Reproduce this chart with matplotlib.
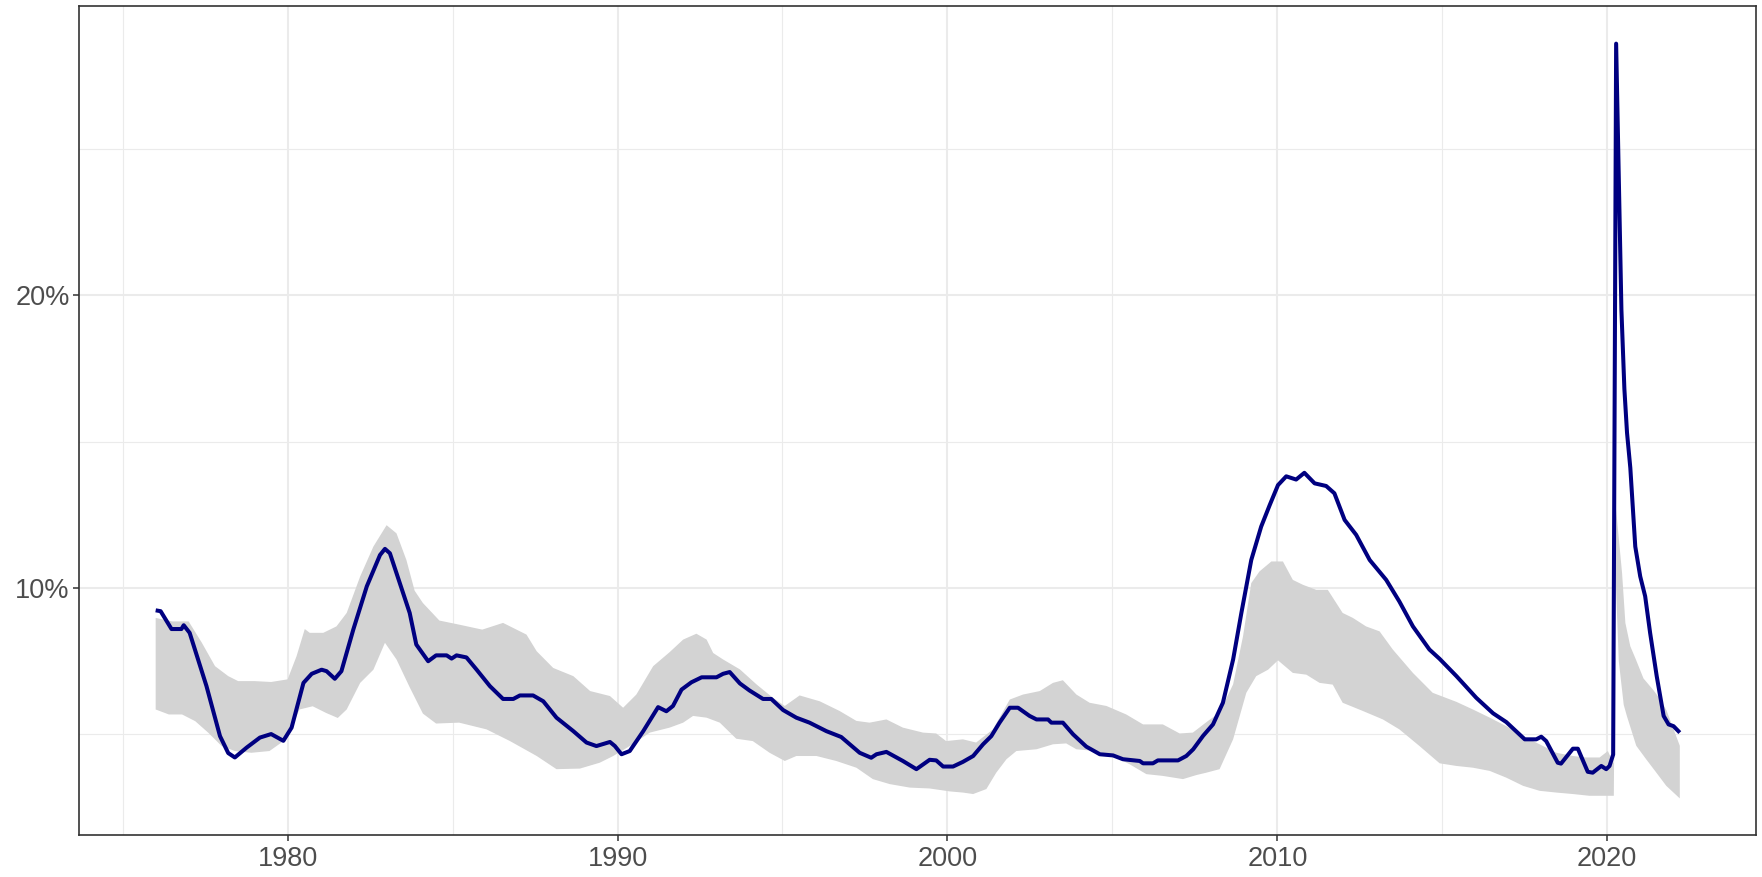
import numpy as np
import matplotlib
matplotlib.use("Agg")
from matplotlib import pyplot as plt

plt.rcParams['font.family'] = ['Liberation Sans', 'DejaVu Sans']

# main series (year, %)
line_year = [1976.0, 1976.15, 1976.48, 1976.78, 1976.85, 1977.03, 1977.54, 1977.95, 1978.2, 1978.4,
             1978.76, 1979.16, 1979.5, 1979.87, 1980.12, 1980.48, 1980.73, 1981.03, 1981.18, 1981.43,
             1981.63, 1981.99, 1982.4, 1982.8, 1982.95, 1983.1, 1983.4, 1983.7, 1983.9, 1984.26,
             1984.5, 1984.82, 1984.97, 1985.12, 1985.42, 1985.73, 1986.13, 1986.53, 1986.84, 1987.04,
             1987.44, 1987.75, 1988.15, 1988.66, 1989.06, 1989.36, 1989.77, 1989.92, 1990.12, 1990.37,
             1990.78, 1991.23, 1991.48, 1991.68, 1991.94, 1992.24, 1992.55, 1993.0, 1993.2, 1993.4,
             1993.71, 1994.0, 1994.41, 1994.66, 1995.02, 1995.42, 1995.82, 1996.33, 1996.78, 1997.04,
             1997.34, 1997.69, 1997.85, 1998.15, 1998.65, 1999.06, 1999.46, 1999.66, 1999.87, 2000.17,
             2000.47, 2000.78, 2001.08, 2001.33, 2001.58, 2001.89, 2002.14, 2002.49, 2002.7, 2003.05,
             2003.15, 2003.5, 2003.81, 2004.21, 2004.62, 2005.02, 2005.32, 2005.83, 2005.93, 2006.23,
             2006.38, 2006.99, 2007.24, 2007.45, 2007.75, 2008.05, 2008.35, 2008.66, 2008.91, 2009.21,
             2009.51, 2009.77, 2010.02, 2010.27, 2010.57, 2010.82, 2011.13, 2011.48, 2011.73, 2012.04,
             2012.39, 2012.8, 2013.3, 2013.7, 2014.11, 2014.61, 2014.92, 2015.43, 2016.03, 2016.54,
             2016.94, 2017.5, 2017.85, 2018.0, 2018.15, 2018.5, 2018.6, 2018.96, 2019.11, 2019.41,
             2019.56, 2019.82, 2019.97, 2020.07, 2020.18, 2020.27, 2020.35, 2020.43, 2020.52, 2020.6,
             2020.7, 2020.85, 2021.0, 2021.15, 2021.3, 2021.5, 2021.71, 2021.86, 2022.01, 2022.2]
line_rate = [9.23, 9.2, 8.59, 8.59, 8.72, 8.46, 6.64, 4.93, 4.35, 4.2,
             4.54, 4.88, 5.0, 4.77, 5.22, 6.75, 7.06, 7.2, 7.15, 6.89,
             7.15, 8.57, 10.05, 11.12, 11.33, 11.18, 10.16, 9.14, 8.06, 7.49,
             7.69, 7.69, 7.58, 7.69, 7.62, 7.2, 6.64, 6.2, 6.2, 6.32,
             6.32, 6.12, 5.56, 5.1, 4.71, 4.59, 4.73, 4.59, 4.31, 4.42,
             5.1, 5.92, 5.78, 5.96, 6.52, 6.77, 6.94, 6.94, 7.06, 7.12,
             6.73, 6.49, 6.2, 6.2, 5.82, 5.56, 5.39, 5.1, 4.9, 4.65,
             4.36, 4.19, 4.31, 4.39, 4.08, 3.8, 4.12, 4.1, 3.89, 3.89,
             4.05, 4.25, 4.65, 4.93, 5.39, 5.9, 5.9, 5.62, 5.5, 5.5,
             5.39, 5.39, 4.99, 4.57, 4.31, 4.27, 4.14, 4.08, 4.0, 4.0,
             4.1, 4.1, 4.25, 4.48, 4.94, 5.33, 6.07, 7.55, 9.14, 10.95,
             12.09, 12.83, 13.51, 13.81, 13.7, 13.93, 13.57, 13.48, 13.23, 12.32,
             11.81, 10.95, 10.27, 9.53, 8.68, 7.89, 7.57, 6.98, 6.24, 5.71,
             5.41, 4.82, 4.82, 4.91, 4.76, 4.02, 3.99, 4.5, 4.5, 3.71,
             3.68, 3.91, 3.8, 3.91, 4.3, 28.6, 24.0, 19.5, 16.8, 15.3,
             14.1, 11.41, 10.39, 9.71, 8.46, 6.98, 5.62, 5.33, 5.27, 5.05]

# upper edge of the band
hi_year = [1976.0, 1976.5, 1977.0, 1977.4, 1977.8, 1978.2, 1978.5, 1979.0, 1979.5, 1980.0,
           1980.27, 1980.52, 1980.67, 1981.08, 1981.48, 1981.79, 1982.2, 1982.6, 1983.0, 1983.3,
           1983.6, 1983.85, 1984.1, 1984.6, 1985.2, 1985.9, 1986.53, 1987.24, 1987.55, 1988.05,
           1988.66, 1989.17, 1989.77, 1990.17, 1990.57, 1991.08, 1991.58, 1991.99, 1992.39, 1992.7,
           1992.9, 1993.2, 1993.71, 1994.21, 1994.71, 1995.07, 1995.52, 1996.13, 1996.73, 1997.24,
           1997.64, 1998.15, 1998.65, 1999.26, 1999.66, 1999.96, 2000.47, 2000.87, 2001.38, 2001.89,
           2002.29, 2002.8, 2003.2, 2003.5, 2003.91, 2004.31, 2004.82, 2005.42, 2005.93, 2006.53,
           2007.04, 2007.44, 2007.9, 2008.25, 2008.66, 2008.96, 2009.21, 2009.46, 2009.82, 2010.17,
           2010.47, 2010.78, 2011.18, 2011.53, 2011.98, 2012.29, 2012.69, 2013.1, 2013.5, 2014.11,
           2014.71, 2015.43, 2015.93, 2016.44, 2016.94, 2017.45, 2017.95, 2018.46, 2018.96, 2019.36,
           2019.77, 2020.02, 2020.19, 2020.22, 2020.3, 2020.45, 2020.55, 2020.7, 2020.85, 2021.1,
           2021.4, 2021.6, 2021.8, 2022.0, 2022.2]
hi_rate = [8.97, 8.85, 8.85, 8.12, 7.32, 6.98, 6.81, 6.81, 6.78, 6.87,
           7.66, 8.59, 8.46, 8.46, 8.68, 9.14, 10.39, 11.41, 12.14, 11.86,
           10.95, 9.9, 9.48, 8.88, 8.74, 8.57, 8.8, 8.4, 7.83, 7.26,
           6.98, 6.47, 6.3, 5.9, 6.35, 7.32, 7.8, 8.23, 8.43, 8.23,
           7.77, 7.55, 7.21, 6.7, 6.24, 5.96, 6.32, 6.12, 5.79, 5.45,
           5.39, 5.5, 5.22, 5.05, 5.02, 4.76, 4.82, 4.71, 5.16, 6.18,
           6.35, 6.47, 6.75, 6.84, 6.35, 6.07, 5.96, 5.67, 5.33, 5.33,
           5.02, 5.05, 5.45, 5.73, 6.7, 8.34, 10.16, 10.56, 10.9, 10.9,
           10.27, 10.1, 9.93, 9.93, 9.14, 8.97, 8.68, 8.51, 7.89, 7.09,
           6.41, 6.1, 5.84, 5.56, 5.27, 4.93, 4.65, 4.36, 4.25, 4.2,
           4.2, 4.42, 4.0, 13.2, 12.3, 10.5, 8.8, 8.0, 7.6, 6.9,
           6.5, 6.2, 5.8, 5.2, 4.6]

# lower edge of the band
lo_year = [1976.0, 1976.4, 1976.8, 1977.2, 1977.6, 1978.0, 1978.4, 1978.9, 1979.45, 1979.95,
           1980.36, 1980.76, 1981.17, 1981.52, 1981.79, 1982.2, 1982.6, 1982.95, 1983.3, 1983.7,
           1984.1, 1984.5, 1985.2, 1986.03, 1986.74, 1987.55, 1988.15, 1988.86, 1989.46, 1989.87,
           1990.37, 1990.98, 1991.58, 1991.99, 1992.29, 1992.7, 1993.1, 1993.6, 1994.1, 1994.61,
           1995.07, 1995.42, 1996.03, 1996.63, 1997.24, 1997.74, 1998.25, 1998.86, 1999.46, 2000.07,
           2000.47, 2000.78, 2001.18, 2001.48, 2001.79, 2002.09, 2002.7, 2003.2, 2003.6, 2003.91,
           2004.51, 2005.02, 2005.52, 2006.03, 2006.53, 2007.14, 2007.55, 2007.85, 2008.25, 2008.66,
           2009.06, 2009.36, 2009.72, 2010.02, 2010.47, 2010.88, 2011.28, 2011.68, 2011.98, 2012.59,
           2013.2, 2013.7, 2014.31, 2014.92, 2015.43, 2015.93, 2016.44, 2016.94, 2017.45, 2017.95,
           2018.46, 2018.96, 2019.46, 2019.97, 2020.2, 2020.25, 2020.35, 2020.5, 2020.6, 2020.88,
           2021.18, 2021.49, 2021.79, 2022.2]
lo_rate = [5.84, 5.67, 5.67, 5.44, 5.04, 4.59, 4.42, 4.36, 4.42, 4.82,
           5.84, 5.95, 5.72, 5.55, 5.84, 6.75, 7.2, 8.12, 7.55, 6.6,
           5.7, 5.36, 5.39, 5.16, 4.76, 4.25, 3.8, 3.82, 4.02, 4.25,
           4.59, 5.05, 5.22, 5.39, 5.62, 5.56, 5.39, 4.84, 4.76, 4.36,
           4.08, 4.25, 4.25, 4.08, 3.85, 3.46, 3.29, 3.17, 3.14, 3.04,
           3.0, 2.95, 3.12, 3.68, 4.14, 4.42, 4.48, 4.65, 4.68, 4.48,
           4.42, 4.25, 3.97, 3.63, 3.57, 3.46, 3.6, 3.68, 3.8, 4.82,
           6.41, 6.98, 7.2, 7.52, 7.09, 7.03, 6.75, 6.69, 6.07, 5.79,
           5.5, 5.16, 4.59, 4.0, 3.91, 3.85, 3.74, 3.51, 3.23, 3.06,
           3.0, 2.95, 2.89, 2.89, 2.89, 10.5, 7.5, 6.0, 5.6, 4.6,
           4.14, 3.68, 3.23, 2.8]

x_breaks = [1980, 1990, 2000, 2010, 2020]
x_minor = [1975, 1985, 1995, 2005, 2015]
y_breaks = [10, 20]
y_labels = ["10%", "20%"]
y_minor = [5, 15, 25]

fig = plt.figure(figsize=(17.62, 8.77), dpi=100)
ax = fig.add_axes([0.0451, 0.0479, 0.9515, 0.9457])

band_x = np.concatenate([hi_year, lo_year[::-1]])
band_y = np.concatenate([hi_rate, lo_rate[::-1]])
ax.fill(band_x, band_y, color="lightgray", lw=0, zorder=2)
ax.plot(line_year, line_rate, color="navy", lw=2.9, solid_joinstyle="round",
        solid_capstyle="butt", zorder=3)

ax.set_xlim(1973.69, 2024.51)
ax.set_ylim(1.55, 29.9)
ax.set_xticks(x_breaks)
ax.set_xticks(x_minor, minor=True)
ax.set_yticks(y_breaks)
ax.set_yticklabels(y_labels)
ax.set_yticks(y_minor, minor=True)

ax.grid(which="major", color="#EBEBEB", lw=1.5, zorder=0)
ax.grid(which="minor", color="#EBEBEB", lw=0.8, zorder=0)
ax.set_axisbelow(True)

ax.tick_params(which="major", length=4, width=1.1, color="#333333",
               labelsize=19.5, labelcolor="#4D4D4D")
ax.tick_params(axis="x", which="major", pad=4)
ax.tick_params(axis="y", which="major", pad=3)
ax.tick_params(which="minor", length=0)
for s in ax.spines.values():
    s.set_color("#333333")
    s.set_linewidth(1.2)

fig.savefig("out.png", dpi=100, facecolor="white")
